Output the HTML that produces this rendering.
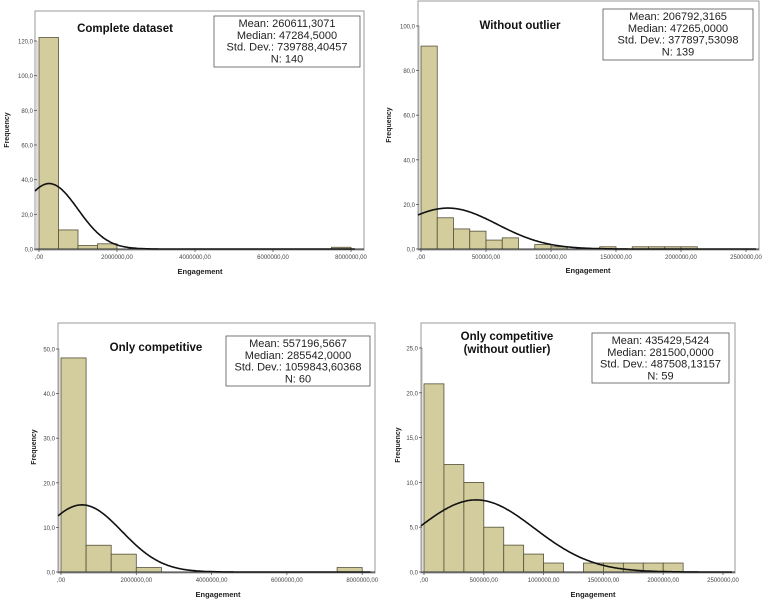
<!DOCTYPE html>
<html><head><meta charset="utf-8">
<style>
html,body{margin:0;padding:0;background:#fff;}
svg{display:block;font-family:"Liberation Sans",sans-serif;}
</style></head>
<body>
<svg id="root" width="763" height="600" viewBox="0 0 763 600" xmlns="http://www.w3.org/2000/svg"></svg>
<script>
// Panel 1: Complete dataset
const counts1 = [122, 11, 2, 3, 0, 0, 0, 0, 0, 0, 0, 0, 0, 0, 0, 1];
const stats1 = [260611.3071, 739788.40457, 140];
const statText1 = ["Mean: 260611,3071", "Median: 47284,5000", "Std. Dev.: 739788,40457", "N: 140"];
const yTicks1 = [0, 20, 40, 60, 80, 100, 120];
const xTicks1 = [0, 2000000, 4000000, 6000000, 8000000];
// Panel 2: Without outlier
const counts2 = [91, 14, 9, 8, 4, 5, 0, 2, 1, 0, 0, 1, 0, 1, 1, 1, 1];
const stats2 = [206792.3165, 377897.53098, 139];
const statText2 = ["Mean: 206792,3165", "Median: 47265,0000", "Std. Dev.: 377897,53098", "N: 139"];
const yTicks2 = [0, 20, 40, 60, 80, 100];
const xTicks2 = [0, 500000, 1000000, 1500000, 2000000, 2500000];
// Panel 3: Only competitive
const counts3 = [48, 6, 4, 1, 0, 0, 0, 0, 0, 0, 0, 1];
const stats3 = [557196.5667, 1059843.60368, 60];
const statText3 = ["Mean: 557196,5667", "Median: 285542,0000", "Std. Dev.: 1059843,60368", "N: 60"];
const yTicks3 = [0, 10, 20, 30, 40, 50];
const xTicks3 = [0, 2000000, 4000000, 6000000, 8000000];
// Panel 4: Only competitive (without outlier)
const counts4 = [21, 12, 10, 5, 3, 2, 1, 0, 1, 1, 1, 1, 1];
const stats4 = [435429.5424, 487508.13157, 59];
const statText4 = ["Mean: 435429,5424", "Median: 281500,0000", "Std. Dev.: 487508,13157", "N: 59"];
const yTicks4 = [0, 5, 10, 15, 20, 25];
const xTicks4 = [0, 500000, 1000000, 1500000, 2000000, 2500000];

const NS = "http://www.w3.org/2000/svg";
const root = document.getElementById("root");
function mk(tag, attrs, parent, text) {
  const e = document.createElementNS(NS, tag);
  for (const k in attrs) e.setAttribute(k, attrs[k]);
  if (text !== undefined) e.textContent = text;
  (parent || root).appendChild(e);
  return e;
}
function fmt(v) {
  return v === 0 ? ",00" : v + ",00";
}
function ytfmt(v) { return v.toFixed(1).replace(".", ","); }

const panels = [
  {counts: counts1, stats: stats1, text: statText1, yT: yTicks1, xT: xTicks1, bin: 500000,
   frame: [35, 11, 364, 250], x0: 39, xPer: 39 / 1000000, y0: 249, yPer: 208 / 120, xMax: 8200000,
   title: ["Complete dataset"], tx: 125, ty: 32, box: [214, 16, 146, 51],
   xl: [200, 274], yl: [7, 130], key: "complete-dataset"},
  {counts: counts2, stats: stats2, text: statText2, yT: yTicks2, xT: xTicks2, bin: 125000,
   frame: [418, 1, 759, 250], x0: 421, xPer: 65 / 500000, y0: 249, yPer: 223 / 100, xMax: 2600000,
   title: ["Without outlier"], tx: 520, ty: 29, box: [603, 9, 150, 51],
   xl: [588, 273], yl: [389, 125], key: "without-outlier"},
  {counts: counts3, stats: stats3, text: statText3, yT: yTicks3, xT: xTicks3, bin: 8000000 / 12,
   frame: [58, 323, 375, 573], x0: 61, xPer: 75.3 / 2000000, y0: 572, yPer: 223 / 50, xMax: 8300000,
   title: ["Only competitive"], tx: 156, ty: 351, box: [226, 336, 144, 50],
   xl: [218, 597], yl: [34, 447], key: "only-competitive"},
  {counts: counts4, stats: stats4, text: statText4, yT: yTicks4, xT: xTicks4, bin: 500000 / 3,
   frame: [421, 323, 735, 573], x0: 424, xPer: 59.8 / 500000, y0: 572, yPer: 224 / 25, xMax: 2600000,
   title: ["Only competitive", "(without outlier)"], tx: 507, ty: 340, box: [592, 333, 137, 50],
   xl: [593, 597], yl: [398, 445], key: "only-competitive-no-outlier"}
];

panels.forEach(p => {
  const g = mk("g", {});
  
  
  const X = v => p.x0 + v * p.xPer;
  const Y = v => p.y0 - v * p.yPer;
  const [fl, ft, fr, fb] = p.frame;
  const fr_ = mk("rect", {x: fl, y: ft, width: fr - fl, height: fb - ft, fill: "none", stroke: "#9a9a9a", "stroke-width": 1}, g);
  
  
  // bars
  p.counts.forEach((c, i) => {
    if (c <= 0) return;
    const r = mk("rect", {x: X(i * p.bin), y: Y(c), width: X((i + 1) * p.bin) - X(i * p.bin), height: Y(0) - Y(c),
      fill: "#d3cc9c", stroke: "#55503a", "stroke-width": 0.8}, g);
    
    
  });
  // axes
  const ax = mk("line", {x1: fl, y1: p.y0, x2: fr, y2: p.y0, stroke: "#333", "stroke-width": 1}, g);
  
  
  const ay = mk("line", {x1: X(0) - 2, y1: p.y0, x2: X(0) - 2, y2: Y(p.yT[p.yT.length - 1]), stroke: "#888", "stroke-width": 0.6}, g);
  
  
  p.yT.forEach(v => {
    mk("line", {x1: X(0) - 5, y1: Y(v), x2: X(0) - 2, y2: Y(v), stroke: "#555", "stroke-width": 0.8}, g);
    const t = mk("text", {x: X(0) - 6, y: Y(v) + 2.5, "font-size": 6, fill: "#444", "text-anchor": "end"}, g, ytfmt(v));
    
    
  });
  p.xT.forEach(v => {
    mk("line", {x1: X(v), y1: p.y0, x2: X(v), y2: p.y0 + 3, stroke: "#555", "stroke-width": 0.8}, g);
    const t = mk("text", {x: X(v), y: p.y0 + 10, "font-size": 6, fill: "#444", "text-anchor": "middle"}, g, fmt(v));
    
    
  });
  // normal curve
  const [mean, sd, n] = p.stats;
  const pts = [];
  for (let k = 0; k <= 300; k++) {
    const v = (p.xMax * k) / 300 - (X(0) - fl) / p.xPer;
    if (X(v) < fl || X(v) > fr) continue;
    const d = n * p.bin / (sd * Math.sqrt(2 * Math.PI)) * Math.exp(-0.5 * ((v - mean) / sd) ** 2);
    pts.push(X(v).toFixed(1) + "," + Y(d).toFixed(1));
  }
  const cv = mk("polyline", {points: pts.join(" "), fill: "none", stroke: "#111", "stroke-width": 1.6}, g);
  
  
  // title
  p.title.forEach((s, i) => {
    const t = mk("text", {x: p.tx, y: p.ty + i * 13, "font-size": 11.5, "font-weight": "bold", fill: "#111", "text-anchor": "middle"}, g, s);
    
    
  });
  // stats box
  const [bx, by, bw, bh] = p.box;
  const sb = mk("rect", {x: bx, y: by, width: bw, height: bh, fill: "#fff", stroke: "#555", "stroke-width": 0.8}, g);
  
  
  p.text.forEach((s, i) => {
    const t = mk("text", {x: bx + bw / 2, y: by + 11 + i * 11.8, "font-size": 11, fill: "#222", "text-anchor": "middle"}, g, s);
    
    
  });
  // axis titles
  const xt = mk("text", {x: p.xl[0], y: p.xl[1], "font-size": 7.5, "font-weight": "bold", fill: "#222", "text-anchor": "middle"}, g, "Engagement");
  
  
  const yt = mk("text", {x: p.yl[0], y: p.yl[1], "font-size": 7, "font-weight": "bold", fill: "#222", "text-anchor": "middle",
    transform: "rotate(-90 " + p.yl[0] + " " + p.yl[1] + ")", dy: 2}, g, "Frequency");
  
  
});
</script>
</body></html>
